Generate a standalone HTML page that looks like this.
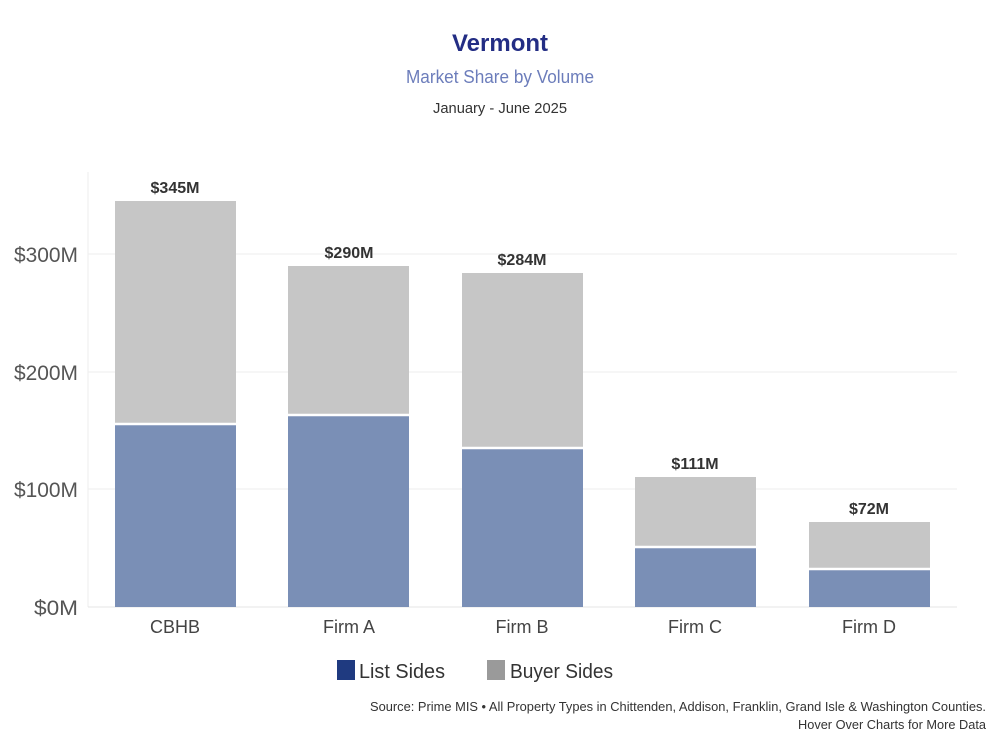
<!DOCTYPE html>
<html><head><meta charset="utf-8"><style>
body{margin:0;background:#fff;width:1000px;height:750px;overflow:hidden;font-family:"Liberation Sans",sans-serif}
</style></head><body>
<svg width="1000" height="750" xmlns="http://www.w3.org/2000/svg" font-family="Liberation Sans, sans-serif">
<text x="500" y="51" text-anchor="middle" font-size="24" font-weight="bold" fill="#232d84" textLength="96" lengthAdjust="spacingAndGlyphs">Vermont</text>
<text x="500" y="83" text-anchor="middle" font-size="18" fill="#6c7dbb" textLength="188" lengthAdjust="spacingAndGlyphs">Market Share by Volume</text>
<text x="500" y="113" text-anchor="middle" font-size="15" fill="#333" textLength="134" lengthAdjust="spacingAndGlyphs">January - June 2025</text>
<g stroke="#eeeeee" stroke-width="1">
<line x1="88" y1="254" x2="957" y2="254"/><line x1="88" y1="372" x2="957" y2="372"/><line x1="88" y1="489" x2="957" y2="489"/>
<line x1="88" y1="172" x2="88" y2="607"/>
</g>
<line x1="88" y1="607" x2="957" y2="607" stroke="#e4e4e4"/>
<g font-size="21" fill="#555" text-anchor="end">
<text x="78" y="262" textLength="64" lengthAdjust="spacingAndGlyphs">$300M</text>
<text x="78" y="380" textLength="64" lengthAdjust="spacingAndGlyphs">$200M</text>
<text x="78" y="497" textLength="64" lengthAdjust="spacingAndGlyphs">$100M</text>
<text x="78" y="615" textLength="44" lengthAdjust="spacingAndGlyphs">$0M</text>
</g>
<g fill="#c6c6c6">
<rect x="115" y="201" width="121" height="223"/><rect x="288" y="266" width="121" height="149"/><rect x="462" y="273" width="121" height="175"/><rect x="635" y="477" width="121" height="70"/><rect x="809" y="522" width="121" height="47"/>
</g>
<g fill="#7a8fb6">
<rect x="115" y="425" width="121" height="182"/><rect x="288" y="416" width="121" height="191"/><rect x="462" y="449" width="121" height="158"/><rect x="635" y="548" width="121" height="59"/><rect x="809" y="570" width="121" height="37"/>
</g>
<g stroke="#fff" stroke-width="2.5">
<line x1="115" y1="424" x2="236" y2="424"/><line x1="288" y1="415" x2="409" y2="415"/><line x1="462" y1="448" x2="583" y2="448"/><line x1="635" y1="547" x2="756" y2="547"/><line x1="809" y1="569" x2="930" y2="569"/>
</g>
<g font-size="16" font-weight="bold" fill="#333" text-anchor="middle">
<text x="175" y="193">$345M</text><text x="349" y="258">$290M</text><text x="522" y="265">$284M</text><text x="695" y="469">$111M</text><text x="869" y="514">$72M</text>
</g>
<g font-size="18" fill="#444" text-anchor="middle">
<text x="175" y="633">CBHB</text><text x="349" y="633">Firm A</text><text x="522" y="633">Firm B</text><text x="695" y="633">Firm C</text><text x="869" y="633">Firm D</text>
</g>
<rect x="337" y="660" width="18" height="20" fill="#1f3a80"/>
<text x="359" y="678" font-size="20" fill="#333" textLength="86" lengthAdjust="spacingAndGlyphs">List Sides</text>
<rect x="487" y="660" width="18" height="20" fill="#9a9a9a"/>
<text x="510" y="678" font-size="20" fill="#333" textLength="103" lengthAdjust="spacingAndGlyphs">Buyer Sides</text>
<text x="986" y="711" text-anchor="end" font-size="13" fill="#333" textLength="616" lengthAdjust="spacingAndGlyphs">Source: Prime MIS • All Property Types in Chittenden, Addison, Franklin, Grand Isle &amp; Washington Counties.</text>
<text x="986" y="729" text-anchor="end" font-size="13" fill="#333" textLength="188" lengthAdjust="spacingAndGlyphs">Hover Over Charts for More Data</text>
</svg>
</body></html>
